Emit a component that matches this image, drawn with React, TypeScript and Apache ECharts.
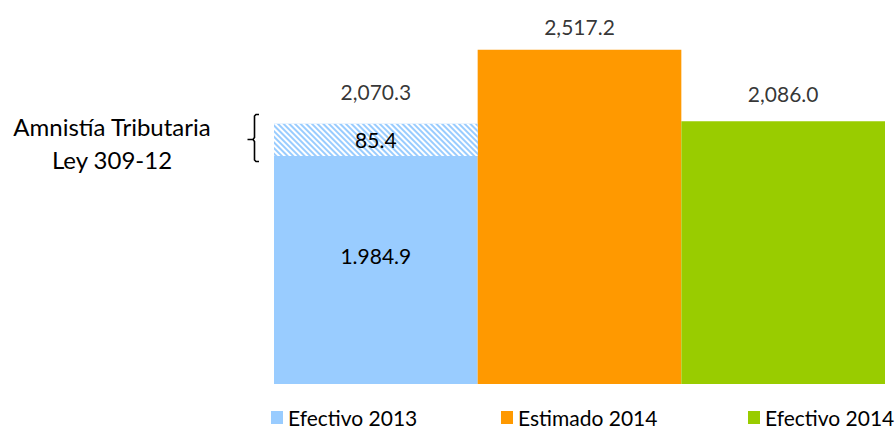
import React, { useEffect, useRef } from "react";
import * as echarts from "echarts";

const categories = ["Efectivo 2013", "Estimado 2014", "Efectivo 2014"];
const efectivo2013 = [1984.9, null, null];
const estimado2014 = [null, 2517.2, null];
const efectivo2014 = [null, null, 2086.0];
// hatched "Amnistía" block: as drawn, it starts lower than the solid top
const amnistiaBase = [1876, null, null];
const amnistiaBlock = [194.3, null, null];
const amnistiaLabel = "85.4";
const efectivo2013Label = "1.984.9";
const totals = [2070.3, 2517.2, 2086.0];
const totalLabels = ["2,070.3", "2,517.2", "2,086.0"];
const labelGaps = [21, 12, 17];
const legendNames = ["Efectivo 2013", "Estimado 2014", "Efectivo 2014"];
const legendLefts = [271, 501, 748];

const FONT = "Lato";

export default function App() {
  const ref = useRef<HTMLDivElement>(null);
  useEffect(() => {
    const chart = echarts.init(ref.current!, null, { renderer: "svg" });
    const barCommon = {
      type: "bar",
      barWidth: "100%",
      barGap: "-100%",
      barCategoryGap: 0,
    };
    chart.setOption({
      animation: false,
      grid: { left: 274, right: 10, top: 36, bottom: 46 },
      xAxis: { type: "category", data: categories, show: false },
      yAxis: { type: "value", min: 500, max: 2600, show: false, splitLine: { show: false } },
      legend: legendNames.map((name, i) => ({
        data: [name],
        left: legendLefts[i],
        top: 407,
        padding: 0,
        icon: "rect",
        itemWidth: 12,
        itemHeight: 13,
        textStyle: { fontFamily: FONT, fontSize: 21, lineHeight: 21, color: "#000" },
        selectedMode: false,
      })),
      series: [
        {
          ...barCommon,
          name: "Efectivo 2013",
          data: efectivo2013,
          itemStyle: { color: "#99CCFF" },
          label: {
            show: true,
            position: "inside",
            offset: [0, -5],
            formatter: () => efectivo2013Label,
            fontFamily: FONT,
            fontSize: 21,
            color: "#000",
          },
          z: 2,
        },
        {
          ...barCommon,
          name: "Estimado 2014",
          data: estimado2014,
          itemStyle: { color: "#FF9900" },
          z: 2,
        },
        {
          ...barCommon,
          name: "Efectivo 2014",
          data: efectivo2014,
          itemStyle: { color: "#99CC00" },
          z: 2,
        },
        {
          ...barCommon,
          name: "base",
          stack: "amn",
          data: amnistiaBase,
          itemStyle: { color: "rgba(0,0,0,0)" },
          z: 1,
        },
        {
          ...barCommon,
          name: "Amnistía Tributaria Ley 309-12",
          stack: "amn",
          data: amnistiaBlock,
          itemStyle: {
            color: "#99CCFF",
            decal: {
              symbol: "rect",
              symbolSize: 1,
              color: "#ffffff",
              dashArrayX: [1, 0],
              dashArrayY: [2, 2],
              rotation: Math.PI / 4,
            },
          },
          label: {
            show: true,
            position: "inside",
            formatter: () => amnistiaLabel,
            fontFamily: FONT,
            fontSize: 21,
            color: "#000",
          },
          z: 3,
        },
        {
          type: "scatter",
          name: "Total",
          symbol: "circle",
          symbolSize: 1,
          itemStyle: { color: "rgba(0,0,0,0)" },
          data: totals.map((v, i) => ({
            value: v,
            label: { distance: labelGaps[i] },
          })),
          label: {
            show: true,
            position: "top",
            formatter: (p: any) => totalLabels[p.dataIndex],
            fontFamily: FONT,
            fontSize: 21,
            color: "#000",
          },
          z: 4,
        },
      ],
      graphic: [
        {
          type: "text",
          x: 112,
          y: 126,
          style: {
            text: "Amnistía Tributaria",
            fontFamily: FONT,
            fontSize: 24,
            align: "center",
            verticalAlign: "middle",
            fill: "#000",
          },
        },
        {
          type: "text",
          x: 112,
          y: 159,
          style: {
            text: "Ley 309-12",
            fontFamily: FONT,
            fontSize: 24,
            align: "center",
            verticalAlign: "middle",
            fill: "#000",
          },
        },
        {
          type: "polyline",
          shape: {
            points: [
              [259, 114.5],
              [256, 114.5],
              [254.5, 116],
              [254.5, 137.5],
              [253, 139.5],
              [247.5, 139.5],
              [253, 139.5],
              [254.5, 141.5],
              [254.5, 160],
              [256, 161.5],
              [259, 161.5],
            ],
          },
          style: { stroke: "#000", lineWidth: 1.6, fill: null },
        },
      ],
    });
    return () => chart.dispose();
  }, []);
  return (
    <div
      ref={ref}
      style={{ position: "absolute", left: 0, top: 0, width: 895, height: 430 }}
    />
  );
}
